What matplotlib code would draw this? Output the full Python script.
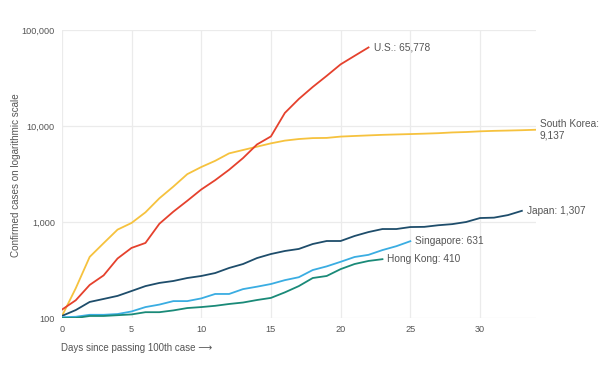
import numpy as np
import matplotlib
matplotlib.use("Agg")
import matplotlib.pyplot as plt
from matplotlib.ticker import FixedLocator, FuncFormatter

plt.rcParams['font.family'] = ['Liberation Sans', 'DejaVu Sans']

# cases by day since 100th case
us = [122, 153, 221, 278, 417, 537, 605, 959, 1281, 1663, 2179, 2726, 3499,
      4632, 6421, 7786, 13680, 19101, 25493, 33276, 43847, 53740, 65778]
korea = [104, 204, 433, 602, 833, 977, 1261, 1766, 2337, 3150, 3736, 4335, 5186,
         5621, 6088, 6593, 7041, 7314, 7478, 7513, 7755, 7869, 7979, 8086, 8162,
         8236, 8320, 8413, 8565, 8652, 8799, 8897, 8961, 9037, 9137]
japan = [105, 121, 147, 158, 170, 191, 215, 232, 243, 261, 274, 294, 332, 365,
         421, 464, 499, 524, 590, 634, 634, 715, 786, 845, 845, 886, 890, 925,
         950, 1000, 1100, 1110, 1180, 1307]
singapore = [102, 103, 108, 108, 110, 117, 130, 138, 150, 150, 160, 178, 178,
             200, 212, 226, 248, 266, 316, 345, 385, 432, 455, 510, 560, 631]
hongkong = [100, 100, 105, 105, 107, 109, 115, 115, 120, 127, 130, 134, 140,
            145, 154, 162, 185, 215, 261, 274, 323, 365, 393, 410]

series = [
    ("South Korea", korea, "#f6c23e"),
    ("Japan", japan, "#1e4d6b"),
    ("Singapore", singapore, "#3aade2"),
    ("Hong Kong", hongkong, "#1a8a78"),
    ("U.S.", us, "#e5412d"),
]

fig = plt.figure(figsize=(6, 3.7), dpi=100)
ax = fig.add_axes([0.103, 0.1405, 0.79, 0.7785])

for name, vals, col in series:
    ax.plot(np.arange(len(vals)), vals, color=col, lw=1.3, solid_joinstyle='round')

ax.set_yscale('log')
ax.set_xlim(0, 34)
ax.set_ylim(100, 100000)
ax.yaxis.set_major_locator(FixedLocator([100, 1000, 10000, 100000]))
ax.yaxis.set_minor_locator(FixedLocator([]))
ax.yaxis.set_major_formatter(FuncFormatter(lambda v, p: f"{int(v):,}"))
ax.set_xticks([0, 5, 10, 15, 20, 25, 30])
ax.grid(True, color='#ebebeb', lw=0.9)
ax.set_axisbelow(True)
for s in ax.spines.values():
    s.set_visible(False)
ax.tick_params(axis='both', length=0, labelsize=6.6, colors='#555555', pad=5)

lab = dict(fontsize=7.3, color='#555555', va='center')
ax.text(22.4, us[-1], "U.S.: 65,778", **lab)
ax.text(34.3, korea[-1], "South Korea:\n9,137", linespacing=1.3, **lab)
ax.text(33.4, japan[-1], "Japan: 1,307", **lab)
ax.text(25.3, singapore[-1], "Singapore: 631", **lab)
ax.text(23.3, hongkong[-1], "Hong Kong: 410", **lab)

fig.text(0.027, 0.527, "Confirmed cases on logarithmic scale", rotation=90,
         fontsize=7.1, color='#555555', va='center', ha='center')
fig.text(0.102, 0.06, "Days since passing 100th case \u27f6", fontsize=7.0,
         color='#555555', va='center', ha='left')

fig.savefig("out.png", dpi=100)
